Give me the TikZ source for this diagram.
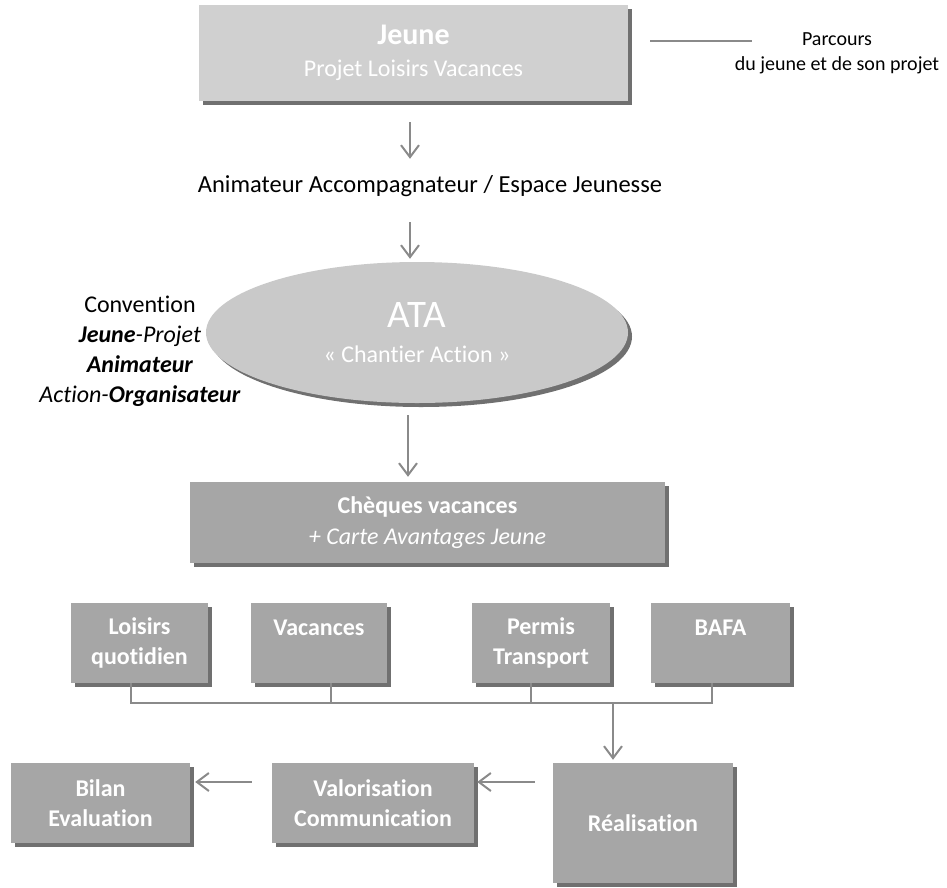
\documentclass[tikz,border=0pt]{standalone}
\usepackage{fontspec}
\setmainfont[Ligatures=NoCommon]{Carlito}
\usetikzlibrary{arrows.meta,shapes.geometric,shadows}
\definecolor{topfill}{HTML}{D0D0D0}
\definecolor{ellfill}{HTML}{C9C9C9}
\definecolor{boxfill}{HTML}{A6A6A6}
\definecolor{arrowgray}{HTML}{8A8A8A}
\definecolor{shadowgray}{HTML}{707070}
\begin{document}
\begin{tikzpicture}[x=1pt,y=-1pt,
  shad/.style={general shadow={shadow xshift=4pt,shadow yshift=-4pt,fill=shadowgray}},
  card/.style={rectangle, fill=boxfill, text=white, inner sep=0pt, align=center, shad},
  smallbox/.style={card, minimum height=80pt, font=\fontsize{24}{30}\selectfont\bfseries},
  arr/.style={draw=arrowgray, line width=2pt, -{Straight Barb[length=12pt,width=18pt,line width=2pt]}},
  link/.style={draw=arrowgray, line width=2pt},
  plain/.style={inner sep=0pt, align=center, text=black}
]
\useasboundingbox (0,0) rectangle (947,887);

% top box
\node[card, fill=topfill, minimum width=429pt, minimum height=96pt,
      font=\fontsize{24}{32}\selectfont] (top) at (413.5,53)
  {{\fontsize{30}{32}\selectfont\bfseries Jeune}\\Projet Loisirs Vacances};

% legend
\coordinate (legA) at (650,41);
\coordinate (legB) at (752,41);
\draw[link] (legA) -- (legB);
\node[plain, font=\fontsize{20}{25}\selectfont] (legend) at (837,53)
  {Parcours\\du jeune et de son projet};

% animateur
\node[plain, font=\fontsize{24.5}{30}\selectfont, text height=18pt, text depth=6pt] (anim) at (430,186)
  {Animateur Accompagnateur / Espace Jeunesse};

% ellipse
\node[ellipse, fill=ellfill, minimum width=422pt, minimum height=141pt, inner sep=0pt,
      text=white, align=center, shad, font=\fontsize{24}{35}\selectfont] (ata) at (417,332.5)
  {{\fontsize{39}{35}\selectfont ATA}\\« Chantier Action »};

% convention
\node[plain, font=\fontsize{24}{30}\selectfont] (conv) at (140,351.5)
  {Convention\\\textbf{\textit{Jeune}}\textit{-Projet}\\\textbf{\textit{Animateur}}\\\textit{Action-}\textbf{\textit{Organisateur}}};

% cheques
\node[card, minimum width=475pt, minimum height=81pt, font=\fontsize{24}{31}\selectfont] (cheq) at (427.5,522.5)
  {\textbf{Chèques vacances}\\\textit{+ Carte Avantages Jeune}};

% small boxes
\node[smallbox, minimum width=137pt] (lois) at (139.5,643) {Loisirs\\quotidien};
\node[smallbox, minimum width=136pt] (vac) at (319,643) {Vacances\\\mbox{}};
\node[smallbox, minimum width=138pt] (perm) at (541,643) {Permis\\Transport};
\node[smallbox, minimum width=139pt] (bafa) at (720.5,643) {BAFA\\\mbox{}};

% bottom boxes
\node[smallbox, minimum width=179pt] (bilan) at (100.5,803) {Bilan\\Evaluation};
\node[smallbox, minimum width=202pt] (valor) at (373,803) {Valorisation\\Communication};
\node[smallbox, minimum width=180pt, minimum height=120pt] (real) at (643,823) {Réalisation};

% arrows down the middle
\draw[arr, shorten <=21pt, shorten >=15pt] ([xshift=-3.5pt]top.south) -- ([xshift=-3.5pt]top.south |- anim.north);
\draw[arr, shorten <=24pt, shorten >=3pt] ([xshift=-3.5pt]top.south |- anim.south) -- ([xshift=-3.5pt]top.south |- ata.north);
\draw[arr, shorten <=12pt, shorten >=5pt] ([xshift=-9pt]ata.south) -- ([xshift=-9pt]ata.south |- cheq.north);

% bus
\coordinate (bus) at ([xshift=-8.5pt,yshift=-20pt]lois.south);
\draw[link] ([xshift=-8.5pt]lois.south) |- ([xshift=-8.5pt]bafa.south |- bus) -- ([xshift=-8.5pt]bafa.south);
\draw[link] ([xshift=12pt]vac.south) -- ([xshift=12pt]vac.south |- bus);
\draw[link] ([xshift=-10pt]perm.south) -- ([xshift=-10pt]perm.south |- bus);
\draw[arr, shorten >=3pt] ([xshift=-30pt]real.north |- bus) -- ([xshift=-30pt]real.north);

% bottom arrows
\coordinate (a1) at ([yshift=21pt]valor.east);
\coordinate (a2) at ([yshift=21pt]bilan.east);
\draw[arr, shorten <=18pt, shorten >=3pt] (a1 -| real.west) -- (a1);
\draw[arr, shorten <=20pt, shorten >=5pt] (a2 -| valor.west) -- (a2);
\end{tikzpicture}
\end{document}
